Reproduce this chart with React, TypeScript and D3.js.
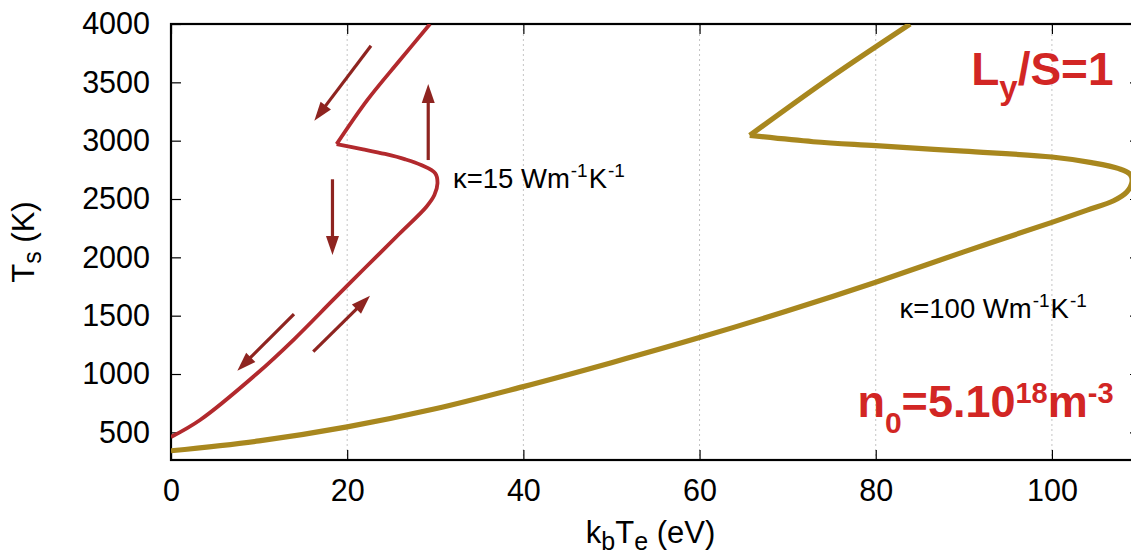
import React, { useEffect, useRef } from 'react';
import * as d3 from 'd3';

// kappa = 15 W/m/K, Ts grows along the whole curve (S-shape), split at the sharp corner
const redLowTe = [0, 3.3, 9.7, 14, 18.4, 21.9, 25.9, 29.0, 29.9, 30.25, 30.0, 28.4, 26.6, 24.3, 21.8, 18.8];
const redLowTs = [460, 606, 1000, 1300, 1635, 1900, 2200, 2434, 2534, 2634, 2720, 2791, 2840, 2886, 2926, 2970];
const redHighTe = [18.8, 22.3, 26.0, 29.4];
const redHighTs = [2970, 3349, 3691, 4000];

// kappa = 100 W/m/K
const goldLowTe = [0, 10, 20, 30, 40, 50, 60, 70, 80, 90, 100, 104, 107, 108.5, 109.1, 108.9, 107.6, 104.5, 100, 90, 80, 72.9, 65.7];
const goldLowTs = [342, 427, 547, 702, 892, 1097, 1312, 1542, 1787, 2047, 2300, 2405, 2485, 2560, 2650, 2710, 2760, 2812, 2860, 2910, 2957, 2991, 3045];
const goldHighTe = [65.7, 75.0, 83.9];
const goldHighTs = [3045, 3549, 4000];

// arrows: [Te start, Ts start, Te tip, Ts tip]
const arrows = [
  [22.7, 3814, 16.27, 3171],
  [29.2, 2834, 29.2, 3486],
  [18.33, 2669, 18.33, 2020],
  [13.96, 1514, 7.53, 1028],
  [16.15, 1191, 22.59, 1671],
];

const xTicks = [0, 20, 40, 60, 80, 100];
const yTicks = [500, 1000, 1500, 2000, 2500, 3000, 3500, 4000];

const W = 1131;
const H = 558;
const FONT = '"Liberation Sans", Arial, Helvetica, sans-serif';

const App = () => {
  const svgRef = useRef<SVGSVGElement>(null);

  useEffect(() => {
    const svg = d3.select(svgRef.current);
    svg.selectAll('*').remove();

    const left = 171, right = 1140, top = 24, bottom = 460;

    const x = d3.scaleLinear().domain([0, 110]).range([left, right]);
    const y = d3.scaleLinear().domain([263, 4000]).range([bottom, top]);

    svg.append('rect').attr('width', W).attr('height', H).attr('fill', 'white');

    svg.append('defs').append('clipPath').attr('id', 'plot-clip')
      .append('rect')
      .attr('x', left).attr('y', top)
      .attr('width', right - left).attr('height', bottom - top);

    // vertical dotted grid
    svg.append('g')
      .selectAll('line')
      .data(xTicks.filter(d => d > 0))
      .enter()
      .append('line')
      .attr('x1', d => x(d)).attr('x2', d => x(d))
      .attr('y1', top).attr('y2', bottom)
      .attr('stroke', '#c4c4c4')
      .attr('stroke-width', 1)
      .attr('stroke-dasharray', '2,3');

    // axes (ticks inside, mirrored on top/right)
    const styleAxis = (g, fs = 30.5) => {
      g.select('.domain').remove();
      g.selectAll('line').attr('stroke', '#000').attr('stroke-width', 1.2);
      g.selectAll('text')
        .style('font-family', FONT)
        .style('font-size', `${fs}px`)
        .attr('fill', '#000');
    };

    svg.append('g')
      .attr('transform', `translate(0,${bottom})`)
      .call(d3.axisBottom(x).tickValues(xTicks).tickSize(-10).tickPadding(19).tickFormat(d3.format('d')))
      .call(styleAxis);

    svg.append('g')
      .attr('transform', `translate(0,${top})`)
      .call(d3.axisTop(x).tickValues(xTicks).tickSize(-10).tickFormat(() => ''))
      .call(styleAxis);

    svg.append('g')
      .attr('transform', `translate(${left},0)`)
      .call(d3.axisLeft(y).tickValues(yTicks).tickSize(-10).tickPadding(21).tickFormat(d3.format('d')))
      .call(styleAxis);

    svg.append('g')
      .attr('transform', `translate(${right},0)`)
      .call(d3.axisRight(y).tickValues(yTicks).tickSize(-10).tickFormat(() => ''))
      .call(styleAxis);

    // frame
    svg.append('rect')
      .attr('x', left).attr('y', top)
      .attr('width', right - left).attr('height', bottom - top)
      .attr('fill', 'none')
      .attr('stroke', '#000')
      .attr('stroke-width', 2.2);

    // curves
    const line = d3.line<[number, number]>()
      .x(d => x(d[0]))
      .y(d => y(d[1]))
      .curve(d3.curveCatmullRom.alpha(0.5));

    const curves = svg.append('g').attr('clip-path', 'url(#plot-clip)');

    const addCurve = (te, ts, color, width) => {
      curves.append('path')
        .datum(te.map((v, i) => [v, ts[i]]))
        .attr('d', line)
        .attr('fill', 'none')
        .attr('stroke', color)
        .attr('stroke-width', width)
        .attr('stroke-linejoin', 'miter')
        .attr('stroke-linecap', 'butt');
    };

    addCurve(goldLowTe, goldLowTs, '#a8871e', 5.2);
    addCurve(goldHighTe, goldHighTs, '#a8871e', 5.2);
    addCurve(redLowTe, redLowTs, '#b2292d', 3.8);
    addCurve(redHighTe, redHighTs, '#b2292d', 3.8);

    // arrows
    const arrowColor = '#8e2420';
    arrows.forEach(a => {
      const x0 = x(a[0]), y0 = y(a[1]), x1 = x(a[2]), y1 = y(a[3]);
      const len = Math.hypot(x1 - x0, y1 - y0);
      const ux = (x1 - x0) / len, uy = (y1 - y0) / len;
      const headL = 19, headW = 6.5;
      const bx = x1 - ux * headL, by = y1 - uy * headL;
      svg.append('line')
        .attr('x1', x0).attr('y1', y0)
        .attr('x2', bx + ux * 2).attr('y2', by + uy * 2)
        .attr('stroke', arrowColor)
        .attr('stroke-width', 3.2);
      svg.append('path')
        .attr('d', `M${x1},${y1}L${bx - uy * headW},${by + ux * headW}L${bx + uy * headW},${by - ux * headW}Z`)
        .attr('fill', arrowColor);
    });

    // kappa labels
    const kappa = (te, ts, value) => {
      const t = svg.append('text')
        .attr('x', x(te)).attr('y', y(ts))
        .style('font-family', FONT)
        .style('font-size', '27.5px')
        .attr('fill', '#000');
      t.append('tspan').text(`κ=${value} Wm`);
      t.append('tspan').attr('dy', -11).attr('dx', 1).style('font-size', '19px').text('-1');
      t.append('tspan').attr('dy', 11).attr('dx', 1).text('K');
      t.append('tspan').attr('dy', -11).attr('dx', 1).style('font-size', '19px').text('-1');
    };
    kappa(32.0, 2594, 15);
    kappa(82.7, 1480, 100);

    // red bold annotations
    const ly = svg.append('text')
      .attr('x', x(107)).attr('y', y(3477))
      .attr('text-anchor', 'end')
      .style('font-family', FONT)
      .style('font-size', '46px')
      .style('font-weight', 'bold')
      .attr('fill', '#d22624');
    ly.append('tspan').text('L');
    ly.append('tspan').attr('dy', 14).style('font-size', '33px').text('y');
    ly.append('tspan').attr('dy', -14).text('/S=1');

    const n0 = svg.append('text')
      .attr('x', x(107)).attr('y', y(631))
      .attr('text-anchor', 'end')
      .style('font-family', FONT)
      .style('font-size', '45px')
      .style('font-weight', 'bold')
      .attr('fill', '#d22624');
    n0.append('tspan').text('n');
    n0.append('tspan').attr('dy', 16).style('font-size', '30px').text('0');
    n0.append('tspan').attr('dy', -16).text('=5.10');
    n0.append('tspan').attr('dy', -14).style('font-size', '29px').text('18');
    n0.append('tspan').attr('dy', 14).text('m');
    n0.append('tspan').attr('dy', -14).style('font-size', '29px').text('-3');

    // axis titles
    const xt = svg.append('text')
      .attr('x', (left + 1130) / 2).attr('y', 543)
      .attr('text-anchor', 'middle')
      .style('font-family', FONT)
      .style('font-size', '31px')
      .attr('fill', '#000');
    xt.append('tspan').text('k');
    xt.append('tspan').attr('dy', 7).style('font-size', '25px').text('b');
    xt.append('tspan').attr('dy', -7).text('T');
    xt.append('tspan').attr('dy', 7).style('font-size', '25px').text('e');
    xt.append('tspan').attr('dy', -7).text(' (eV)');

    const yt = svg.append('text')
      .attr('transform', `translate(34,${(top + bottom) / 2}) rotate(-90)`)
      .attr('text-anchor', 'middle')
      .style('font-family', FONT)
      .style('font-size', '31px')
      .attr('fill', '#000');
    yt.append('tspan').text('T');
    yt.append('tspan').attr('dy', 7).style('font-size', '25px').text('s');
    yt.append('tspan').attr('dy', -7).text(' (K)');
  }, []);

  return (
    <div style={{ position: 'absolute', left: 0, top: 0 }}>
      <svg ref={svgRef} width={W} height={H} style={{ display: 'block' }}></svg>
    </div>
  );
};

export default App;
